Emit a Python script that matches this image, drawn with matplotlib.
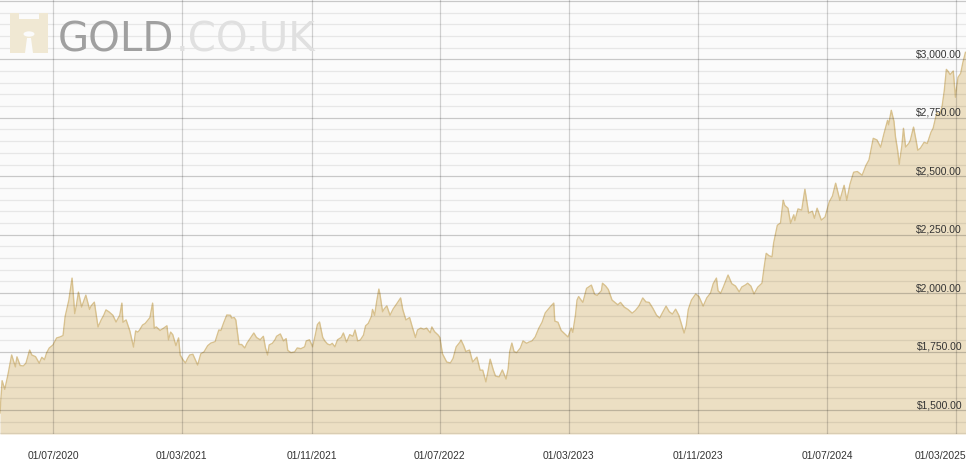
import matplotlib
matplotlib.use("Agg")
import matplotlib.pyplot as plt
import matplotlib.transforms as mtransforms
from matplotlib.patches import Polygon, Circle
import pandas as pd

# gold price (USD/oz)
dates = [
    "2020-03-23", "2020-03-27", "2020-04-01", "2020-04-07", "2020-04-14", "2020-04-21",
    "2020-04-24", "2020-04-30", "2020-05-06", "2020-05-11", "2020-05-18", "2020-05-22",
    "2020-05-29", "2020-06-05", "2020-06-10", "2020-06-15", "2020-06-19", "2020-06-24",
    "2020-07-01", "2020-07-08", "2020-07-14", "2020-07-20", "2020-07-24", "2020-07-28",
    "2020-07-31", "2020-08-06", "2020-08-11", "2020-08-14", "2020-08-18", "2020-08-24",
    "2020-08-28", "2020-09-01", "2020-09-08", "2020-09-11", "2020-09-17", "2020-09-24",
    "2020-09-30", "2020-10-05", "2020-10-09", "2020-10-15", "2020-10-22", "2020-10-28",
    "2020-11-04", "2020-11-08", "2020-11-10", "2020-11-16", "2020-11-23", "2020-11-30",
    "2020-12-04", "2020-12-08", "2020-12-11", "2020-12-17", "2020-12-22", "2020-12-31",
    "2021-01-05", "2021-01-08", "2021-01-12", "2021-01-19", "2021-01-26", "2021-02-01",
    "2021-02-04", "2021-02-08", "2021-02-12", "2021-02-18", "2021-02-23", "2021-02-26",
    "2021-03-03", "2021-03-08", "2021-03-12", "2021-03-16", "2021-03-22", "2021-03-31",
    "2021-04-06", "2021-04-12", "2021-04-19", "2021-04-25", "2021-05-03", "2021-05-10",
    "2021-05-14", "2021-05-19", "2021-05-25", "2021-06-01", "2021-06-03", "2021-06-08",
    "2021-06-11", "2021-06-17", "2021-06-22", "2021-06-28", "2021-07-02", "2021-07-08",
    "2021-07-15", "2021-07-20", "2021-07-27", "2021-08-02", "2021-08-06", "2021-08-10",
    "2021-08-13", "2021-08-19", "2021-08-24", "2021-08-27", "2021-09-03", "2021-09-09",
    "2021-09-14", "2021-09-17", "2021-09-23", "2021-09-30", "2021-10-05", "2021-10-12",
    "2021-10-19", "2021-10-22", "2021-10-28", "2021-11-03", "2021-11-08", "2021-11-12",
    "2021-11-16", "2021-11-22", "2021-11-26", "2021-12-01", "2021-12-06", "2021-12-10",
    "2021-12-15", "2021-12-20", "2021-12-27", "2021-12-31", "2022-01-06", "2022-01-12",
    "2022-01-18", "2022-01-22", "2022-01-27", "2022-02-01", "2022-02-07", "2022-02-11",
    "2022-02-16", "2022-02-22", "2022-02-24", "2022-02-28", "2022-03-04", "2022-03-08",
    "2022-03-10", "2022-03-15", "2022-03-18", "2022-03-23", "2022-03-29", "2022-04-04",
    "2022-04-11", "2022-04-18", "2022-04-22", "2022-04-28", "2022-05-05", "2022-05-09",
    "2022-05-16", "2022-05-20", "2022-05-26", "2022-06-01", "2022-06-06", "2022-06-13",
    "2022-06-16", "2022-06-21", "2022-06-28", "2022-07-01", "2022-07-06", "2022-07-14",
    "2022-07-21", "2022-07-26", "2022-08-01", "2022-08-08", "2022-08-10", "2022-08-15",
    "2022-08-19", "2022-08-26", "2022-09-01", "2022-09-09", "2022-09-15", "2022-09-20",
    "2022-09-26", "2022-09-30", "2022-10-04", "2022-10-10", "2022-10-14", "2022-10-21",
    "2022-10-27", "2022-11-03", "2022-11-07", "2022-11-10", "2022-11-14", "2022-11-18",
    "2022-11-23", "2022-11-30", "2022-12-05", "2022-12-12", "2022-12-16", "2022-12-22",
    "2022-12-28", "2023-01-04", "2023-01-10", "2023-01-16", "2023-01-25", "2023-02-01",
    "2023-02-03", "2023-02-09", "2023-02-15", "2023-02-22", "2023-02-28", "2023-03-06",
    "2023-03-09", "2023-03-14", "2023-03-17", "2023-03-20", "2023-03-23", "2023-03-28",
    "2023-04-04", "2023-04-13", "2023-04-19", "2023-04-24", "2023-05-02", "2023-05-04",
    "2023-05-10", "2023-05-15", "2023-05-22", "2023-05-30", "2023-06-02", "2023-06-07",
    "2023-06-14", "2023-06-21", "2023-06-29", "2023-07-05", "2023-07-12", "2023-07-19",
    "2023-07-25", "2023-07-31", "2023-08-07", "2023-08-14", "2023-08-20", "2023-08-25",
    "2023-09-01", "2023-09-07", "2023-09-13", "2023-09-19", "2023-09-25", "2023-10-05",
    "2023-10-09", "2023-10-13", "2023-10-19", "2023-10-27", "2023-11-02", "2023-11-10",
    "2023-11-17", "2023-11-24", "2023-11-29", "2023-12-05", "2023-12-08", "2023-12-13",
    "2023-12-18", "2023-12-27", "2024-01-03", "2024-01-10", "2024-01-17", "2024-01-22",
    "2024-01-29", "2024-02-02", "2024-02-08", "2024-02-14", "2024-02-21", "2024-02-29",
    "2024-03-05", "2024-03-08", "2024-03-13", "2024-03-19", "2024-03-22", "2024-03-29",
    "2024-04-04", "2024-04-09", "2024-04-12", "2024-04-18", "2024-04-23", "2024-04-29",
    "2024-05-01", "2024-05-07", "2024-05-14", "2024-05-20", "2024-05-27", "2024-06-03",
    "2024-06-07", "2024-06-12", "2024-06-20", "2024-06-27", "2024-07-05", "2024-07-11",
    "2024-07-17", "2024-07-25", "2024-08-02", "2024-08-07", "2024-08-13", "2024-08-20",
    "2024-08-27", "2024-09-05", "2024-09-12", "2024-09-18", "2024-09-26", "2024-10-03",
    "2024-10-10", "2024-10-16", "2024-10-23", "2024-10-25", "2024-10-30", "2024-11-04",
    "2024-11-07", "2024-11-11", "2024-11-14", "2024-11-19", "2024-11-22", "2024-11-26",
    "2024-12-02", "2024-12-05", "2024-12-11", "2024-12-16", "2024-12-19", "2024-12-24",
    "2024-12-31", "2025-01-06", "2025-01-13", "2025-01-17", "2025-01-24", "2025-01-29",
    "2025-02-03", "2025-02-07", "2025-02-11", "2025-02-14", "2025-02-18", "2025-02-24",
    "2025-02-28", "2025-03-05", "2025-03-10", "2025-03-14", "2025-03-19",
]
prices = [
    1487, 1625, 1588, 1650, 1735, 1684,
    1727, 1690, 1688, 1700, 1756, 1735,
    1728, 1700, 1725, 1715, 1744, 1765,
    1778, 1808, 1812, 1818, 1900, 1940,
    1970, 2064, 1912, 1945, 2004, 1940,
    1965, 1991, 1930, 1945, 1961, 1855,
    1885, 1906, 1928, 1919, 1905, 1876,
    1905, 1957, 1875, 1885, 1838, 1769,
    1838, 1833, 1840, 1863, 1870, 1895,
    1957, 1850, 1855, 1840, 1850, 1860,
    1800, 1833, 1822, 1775, 1808, 1735,
    1715, 1701, 1720, 1735, 1738, 1692,
    1740, 1748, 1775, 1786, 1792, 1842,
    1840, 1872, 1906, 1905, 1893, 1895,
    1885, 1780, 1780, 1765, 1785, 1805,
    1829, 1810, 1800, 1815, 1765, 1735,
    1778, 1785, 1800, 1815, 1825, 1795,
    1805, 1755, 1745, 1748, 1765, 1762,
    1770, 1795, 1800, 1770, 1820, 1865,
    1876, 1810, 1795, 1782, 1778, 1785,
    1770, 1800, 1810, 1829, 1790, 1822,
    1815, 1842, 1795, 1799, 1820, 1860,
    1870, 1900, 1930, 1905, 1965, 2017,
    1995, 1920, 1932, 1945, 1905, 1932,
    1955, 1979, 1930, 1885, 1895, 1863,
    1810, 1842, 1850, 1845, 1850, 1830,
    1855, 1835, 1820, 1810, 1740, 1705,
    1701, 1720, 1770, 1790, 1799, 1775,
    1750, 1756, 1705, 1726, 1670, 1670,
    1620, 1665, 1717, 1670, 1645, 1641,
    1671, 1632, 1675, 1750, 1786, 1750,
    1745, 1765, 1795, 1785, 1790, 1795,
    1812, 1850, 1875, 1915, 1940, 1957,
    1880, 1875, 1840, 1825, 1812, 1850,
    1832, 1905, 1970, 1985, 1975, 1960,
    2020, 2034, 1995, 1990, 2010, 2042,
    2030, 2015, 1970, 1955, 1950, 1960,
    1940, 1930, 1914, 1925, 1945, 1979,
    1962, 1960, 1935, 1905, 1893, 1915,
    1944, 1920, 1910, 1931, 1905, 1829,
    1860, 1930, 1970, 1996, 1985, 1944,
    1980, 2000, 2040, 2064, 2010, 1999,
    2025, 2077, 2040, 2030, 2005, 2026,
    2035, 2042, 2030, 1996, 2025, 2042,
    2125, 2170, 2160, 2155, 2214, 2290,
    2300, 2397, 2375, 2363, 2299, 2335,
    2310, 2360, 2355, 2444, 2342, 2350,
    2320, 2363, 2312, 2325, 2390, 2415,
    2470, 2397, 2461, 2397, 2465, 2517,
    2520, 2504, 2545, 2570, 2662, 2655,
    2624, 2680, 2739, 2720, 2782, 2735,
    2667, 2610, 2551, 2630, 2705, 2625,
    2640, 2654, 2710, 2650, 2611, 2620,
    2645, 2640, 2688, 2705, 2773, 2760,
    2800, 2865, 2957, 2949, 2935, 2950,
    2838, 2923, 2940, 2985, 3030,
]

tick_dates = ["2020-07-01", "2021-03-01", "2021-11-01", "2022-07-01",
              "2023-03-01", "2023-11-01", "2024-07-01", "2025-03-01"]
tick_labels = ["01/07/2020", "01/03/2021", "01/11/2021", "01/07/2022",
               "01/03/2023", "01/11/2023", "01/07/2024", "01/03/2025"]
price_levels = [1500, 1750, 2000, 2250, 2500, 2750, 3000]
price_labels = ["$1,500.00", "$1,750.00", "$2,000.00", "$2,250.00",
                "$2,500.00", "$2,750.00", "$3,000.00"]

x = pd.to_datetime(dates)
W, H = 974, 472

fig = plt.figure(figsize=(W / 100, H / 100), dpi=100)
fig.patch.set_facecolor("white")
ax = fig.add_axes([0, 1 - 434 / H, 966 / W, 434 / H])
ax.set_facecolor("#fbfbfb")

ymin, ymax = 1397, 3254
ax.set_xlim(pd.Timestamp("2020-03-23"), pd.Timestamp("2025-03-20"))
ax.set_ylim(ymin, ymax)

# area + outline
ax.fill_between(x, prices, ymin, color="#ecdfc3", lw=0, zorder=1)
ax.plot(x, prices, color="#d8c18e", lw=1.0, zorder=2)

# grid drawn over the area
ax.set_yticks(list(range(1500, 3260, 250)))
ax.set_yticks(list(range(1400, 3260, 50)), minor=True)
ax.yaxis.grid(True, which="major", color="black", alpha=0.2, lw=0.9)
ax.yaxis.grid(True, which="minor", color="black", alpha=0.08, lw=0.9)
ax.set_xticks(pd.to_datetime(tick_dates))
ax.set_xticklabels(tick_labels)
ax.xaxis.grid(True, color="black", alpha=0.17, lw=0.9)
ax.set_axisbelow(False)

ax.tick_params(axis="y", which="both", length=0, labelleft=False)
ax.tick_params(axis="x", length=0, pad=12, labelsize=7.4, labelcolor="#333333")
for lbl in ax.get_xticklabels():
    lbl.set_fontfamily("Liberation Sans")
# last date label is pushed against the right edge
last = ax.get_xticklabels()[-1]
last.set_horizontalalignment("right")
last.set_transform(last.get_transform()
                   + mtransforms.ScaledTranslation(0.10, 0, fig.dpi_scale_trans))
for s in ax.spines.values():
    s.set_visible(False)

# price labels inside the plot, right side
trans = mtransforms.blended_transform_factory(ax.transAxes, ax.transData)
for v, lab in zip(price_levels, price_labels):
    ax.annotate(lab, xy=(0.996, v), xycoords=trans, xytext=(0, 1.3),
                textcoords="offset points", ha="right", va="baseline",
                fontsize=7.4, color="#333333", family="Liberation Sans",
                zorder=5)

# watermark logo
def px(xp, yp):
    return (xp / W, 1 - yp / H)

castle = [px(10, 53), px(10, 13), px(19, 13), px(19, 19), px(39, 19),
          px(39, 13), px(48, 13), px(48, 53)]
fig.add_artist(Polygon(castle, closed=True, transform=fig.transFigure,
                       facecolor="#f0e8d3", edgecolor="none", zorder=6))
fig.add_artist(Polygon([px(25, 53), px(27, 38), px(31, 38), px(33, 53)],
                       closed=True, transform=fig.transFigure,
                       facecolor="#fbfbfb", edgecolor="none", zorder=7))
fig.add_artist(Circle(px(29, 34), 5.5 / W, transform=fig.transFigure,
                      facecolor="#fbfbfb", edgecolor="none", zorder=7))
fig.text(58 / W, 1 - 52 / H, "GOLD", fontsize=29, color="#a0a0a0",
         family="DejaVu Sans", ha="left", va="baseline", zorder=8)
fig.text(176 / W, 1 - 52 / H, ".CO.UK", fontsize=29, color="#e0e0e0",
         family="DejaVu Sans", ha="left", va="baseline", zorder=8)

fig.savefig("out.png", dpi=100)
